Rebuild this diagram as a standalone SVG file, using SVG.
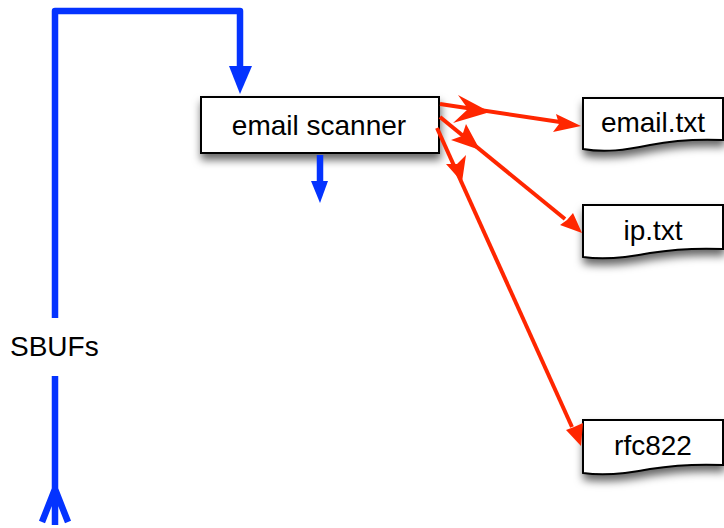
<svg xmlns="http://www.w3.org/2000/svg" width="724" height="528" viewBox="0 0 724 528">
  <style>
    .box { fill: #ffffff; stroke: #000000; stroke-width: 2; filter: url(#shadow); }
    .label { font-family: "Liberation Sans", Arial, sans-serif; font-size: 28px; fill: #000000; }
    .blue { fill: none; stroke: #0433ff; stroke-width: 6.5; stroke-linejoin: round; }
    .blue-head { fill: #0433ff; }
    .red { fill: none; stroke: #ff2600; stroke-width: 4; }
    .red-head { fill: #ff2600; }
  </style>
  <defs>
    <filter id="shadow" x="-20%" y="-30%" width="140%" height="190%">
      <feDropShadow dx="1" dy="6" stdDeviation="4" flood-color="#000000" flood-opacity="0.6"/>
    </filter>
  </defs>

  <!-- SBUF feed loop -->
  <g id="sbufs">
    <path class="blue" d="M55,318 V11 H240 V70"/>
    <polygon class="blue-head" points="229,66 252,66 240,94"/>
    <path class="blue" d="M55,376 V489 M55,489 L42,522 M55,489 V525 M55,489 L68,522" stroke-linecap="butt"/>
    <text class="label" x="10" y="356">SBUFs</text>
  </g>

  <!-- scanner -->
  <g id="email-scanner">
    <rect class="box" x="201" y="97" width="238" height="56"/>
    <text class="label" x="319" y="135" text-anchor="middle">email scanner</text>
  </g>

  <!-- feature files -->
  <g id="email-txt">
    <path class="box" d="M583,98 H723 V140 C700,139 675,140 650,145 C625,150 605,153 583,149 Z"/>
    <text class="label" x="653" y="132" text-anchor="middle">email.txt</text>
  </g>
  <g id="ip-txt">
    <path class="box" d="M583,205 H723 V249 C700,248 675,249 650,253 C625,258 605,260 583,257 Z"/>
    <text class="label" x="653" y="240" text-anchor="middle">ip.txt</text>
  </g>
  <g id="rfc822">
    <path class="box" d="M583,420 H723 V465 C700,464 675,465 650,469 C625,474 605,476 583,473 Z"/>
    <text class="label" x="653" y="455" text-anchor="middle">rfc822</text>
  </g>

  <!-- connectors -->
  <g id="connectors">
    <!-- scanner to stop (downward) -->
    <path class="blue" d="M320,155 V184" stroke-width="5"/>
    <polygon class="blue-head" points="311,181 328,181 320,203"/>

    <!-- scanner to email.txt -->
    <path class="red" d="M440,104 L560,122"/>
    <polygon class="red-head" points="581,126 556,114 559,124 553,132"/>
    <polygon class="red-head" points="490,112 458,95 468,109 453,123"/>

    <!-- scanner to ip.txt -->
    <path class="red" d="M440,117 L565,219"/>
    <polygon class="red-head" points="582,233 573,213 567,220 560,225"/>
    <polygon class="red-head" points="480,150 466,124 462,136 451,140"/>

    <!-- scanner to rfc822 -->
    <path class="red" d="M437,128 L572,427"/>
    <polygon class="red-head" points="581,446 583,423 574,427 566,430"/>
    <polygon class="red-head" points="462,182 466,155 457,164 446,164"/>
  </g>
</svg>
